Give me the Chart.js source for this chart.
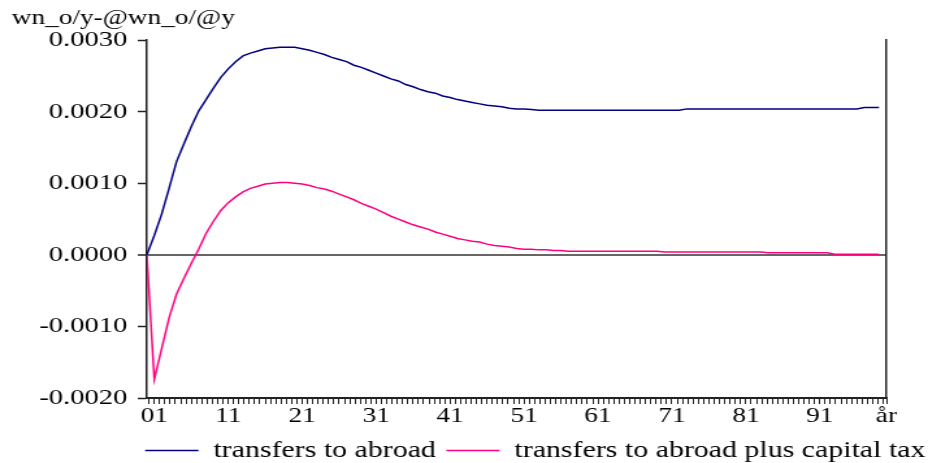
<!DOCTYPE html>
<html>
<head>
<meta charset="utf-8">
<script src="https://cdn.jsdelivr.net/npm/chart.js@4/dist/chart.umd.min.js"></script>
<style>
  html, body { margin: 0; padding: 0; background: #fff; }
</style>
</head>
<body>
<!-- the original figure is stretched sideways, so the canvas is drawn narrow and widened -->
<canvas id="chart" width="714" height="463" style="width:928px;height:463px;display:block"></canvas>
<script>
// years after start (0 = 2000)
const years = [];
for (let i = 0; i < 100; i++) years.push(i);

const transfers = [
  0, 0.00027, 0.00057, 0.00093, 0.00130, 0.00155, 0.00179, 0.00201, 0.00217, 0.00233,
  0.00248, 0.00260, 0.00270, 0.00278, 0.00282, 0.00285, 0.00288, 0.00289, 0.00290, 0.00290,
  0.00290, 0.00288, 0.00286, 0.00283, 0.00280, 0.00276, 0.00273, 0.00270, 0.00265, 0.00262,
  0.00258, 0.00254, 0.00250, 0.00246, 0.00243, 0.00238, 0.00235, 0.00231, 0.00228, 0.00226,
  0.00222, 0.00220, 0.00217, 0.00215, 0.00213, 0.00211, 0.00209, 0.00208, 0.00207, 0.00205,
  0.00204, 0.00204, 0.00203, 0.00202, 0.00202, 0.00202, 0.00202, 0.00202, 0.00202, 0.00202,
  0.00202, 0.00202, 0.00202, 0.00202, 0.00202, 0.00202, 0.00202, 0.00202, 0.00202, 0.00202,
  0.00202, 0.00202, 0.00202, 0.00204, 0.00204, 0.00204, 0.00204, 0.00204, 0.00204, 0.00204,
  0.00204, 0.00204, 0.00204, 0.00204, 0.00204, 0.00204, 0.00204, 0.00204, 0.00204, 0.00204,
  0.00204, 0.00204, 0.00204, 0.00204, 0.00204, 0.00204, 0.00204, 0.00206, 0.00206, 0.00206
];

const transfersCapTax = [
  0, -0.00174, -0.00131, -0.00088, -0.00055, -0.00033, -0.00012, 0.00008, 0.00030, 0.00047,
  0.00062, 0.00073, 0.00081, 0.00088, 0.00093, 0.00096, 0.00099, 0.00100, 0.00101, 0.00101,
  0.00100, 0.00099, 0.00097, 0.00094, 0.00092, 0.00089, 0.00085, 0.00081, 0.00077, 0.00072,
  0.00068, 0.00064, 0.00059, 0.00054, 0.00050, 0.00046, 0.00042, 0.00039, 0.00036, 0.00032,
  0.00029, 0.00026, 0.00023, 0.00021, 0.00019, 0.00018, 0.00015, 0.00013, 0.00012, 0.00011,
  0.00009, 0.00008, 0.00008, 0.00007, 0.00007, 0.00006, 0.00006, 0.00005, 0.00005, 0.00005,
  0.00005, 0.00005, 0.00005, 0.00005, 0.00005, 0.00005, 0.00005, 0.00005, 0.00005, 0.00005,
  0.00004, 0.00004, 0.00004, 0.00004, 0.00004, 0.00004, 0.00004, 0.00004, 0.00004, 0.00004,
  0.00004, 0.00004, 0.00004, 0.00004, 0.00003, 0.00003, 0.00003, 0.00003, 0.00003, 0.00003,
  0.00003, 0.00003, 0.00003, 0.00001, 0.00001, 0.00001, 0.00001, 0.00001, 0.00001, 0.00001
];

// x tick labels and where they sit
const xTickPos = [1, 11, 21, 31, 41, 51, 61, 71, 81, 91, 100];
const xTickText = ["01", "11", "21", "31", "41", "51", "61", "71", "81", "91", "år"];

const serif = "'Liberation Serif', 'Times New Roman', serif";
const axisColor = "#222";

new Chart(document.getElementById("chart"), {
  type: "line",
  data: {
    labels: years,
    datasets: [
      {
        label: "transfers to abroad",
        data: transfers,
        borderColor: "#000080",
        backgroundColor: "#000080",
        borderWidth: 1.5,
        pointRadius: 0,
        tension: 0,
        yAxisID: "y",
      },
      {
        label: "transfers to abroad plus capital tax",
        data: transfersCapTax,
        borderColor: "#ff0080",
        backgroundColor: "#ff0080",
        borderWidth: 1.5,
        pointRadius: 0,
        tension: 0,
        yAxisID: "y",
      },
    ],
  },
  options: {
    responsive: false,
    devicePixelRatio: 1,
    animation: false,
    layout: { padding: { left: 9, right: -6, top: 0, bottom: -9 } },
    plugins: {
      title: {
        display: true,
        text: "wn_o/y-@wn_o/@y",
        align: "start",
        color: "#000",
        font: { family: serif, size: 21, weight: "normal" },
        padding: { top: 6, bottom: 9 },
      },
      legend: {
        position: "bottom",
        align: "end",
        labels: {
          color: "#000",
          font: { family: serif, size: 23 },
          usePointStyle: true,
          pointStyle: "line",
          pointStyleWidth: 41,
          padding: 8,
        },
      },
      tooltip: { enabled: false },
    },
    scales: {
      x: {
        type: "linear",
        min: 0,
        max: 100,
        afterBuildTicks: (scale) => {
          const vals = [];
          for (let k = -1; 1 + k * 10 / 14 <= 100; k++) vals.push(1 + k * 10 / 14);
          vals.push(100);
          scale.ticks = vals.map((v) => ({ value: v }));
        },
        afterFit: (scale) => { scale.height = 33; },
        ticks: {
          autoSkip: false,
          maxRotation: 0,
          padding: 0,
          color: "#000",
          font: { family: serif, size: 21 },
          callback: (value) => {
            const i = xTickPos.findIndex((p) => Math.abs(p - value) < 1e-6);
            return i >= 0 ? xTickText[i] : "";
          },
        },
        grid: {
          drawOnChartArea: false,
          drawTicks: true,
          tickLength: 6,
          color: axisColor,
          lineWidth: 1,
        },
        border: { display: true, color: axisColor, width: 2 },
      },
      y: {
        position: "left",
        min: -0.002,
        max: 0.003,
        afterFit: (scale) => { scale.width = 104; },
        ticks: {
          stepSize: 0.001,
          padding: 8,
          color: "#000",
          font: { family: serif, size: 22 },
          callback: (value) => Number(value).toFixed(4),
        },
        grid: {
          color: (ctx) => (ctx.tick && Math.abs(ctx.tick.value) < 1e-9 ? "#666" : "rgba(0,0,0,0)"),
          lineWidth: (ctx) => (ctx.tick && Math.abs(ctx.tick.value) < 1e-9 ? 2 : 1),
          tickColor: axisColor,
          tickLength: 7,
          tickWidth: 1.5,
        },
        border: { display: true, color: axisColor, width: 1.5 },
      },
      y2: {
        position: "right",
        min: -0.002,
        max: 0.003,
        afterFit: (scale) => { scale.width = 38; },
        ticks: { display: false },
        grid: { drawOnChartArea: false, drawTicks: false },
        border: { display: true, color: axisColor, width: 1.5 },
      },
    },
  },
});
</script>
</body>
</html>
